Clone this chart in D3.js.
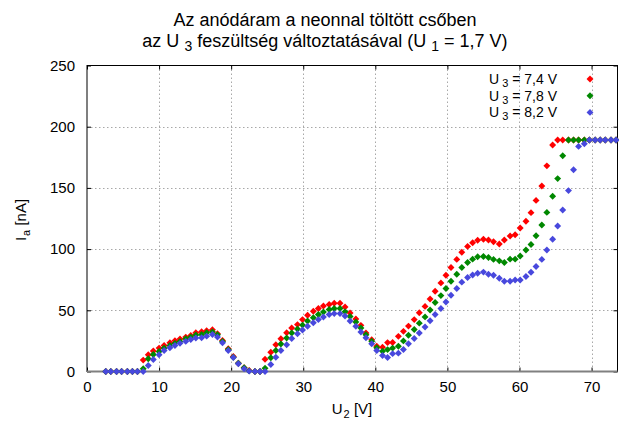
<!DOCTYPE html>
<html>
<head>
<meta charset="utf-8">
<script src="https://cdn.jsdelivr.net/npm/d3@7"></script>
<style>
  body { margin: 0; background: #fff; }
  text { font-family: "Liberation Sans", Arial, sans-serif; fill: #000; }
</style>
</head>
<body>
<div id="graph1"></div>
<script>
// U2 [V] values of the measurement
var u2 = [2.6, 3.3, 4.1, 4.8, 5.6, 6.3, 7.0, 7.8, 8.5, 9.2,
  10.0, 10.7, 11.5, 12.2, 12.9, 13.7, 14.4, 15.1, 15.9, 16.6,
  17.4, 18.1, 18.8, 19.6, 20.3, 21.0, 21.8, 22.5, 23.3, 24.0,
  24.7, 25.5, 26.2, 26.9, 27.7, 28.4, 29.2, 29.9, 30.6, 31.4,
  32.1, 32.8, 33.6, 34.3, 35.1, 35.8, 36.5, 37.3, 38.0, 38.7,
  39.5, 40.2, 41.0, 41.7, 42.4, 43.2, 43.9, 44.6, 45.4, 46.1,
  46.9, 47.6, 48.3, 49.1, 49.8, 50.5, 51.3, 52.0, 52.8, 53.5,
  54.2, 55.0, 55.7, 56.4, 57.2, 57.9, 58.7, 59.4, 60.1, 60.9,
  61.6, 62.3, 63.1, 63.8, 64.6, 65.3, 66.0, 66.8, 67.5, 68.2,
  69.0, 69.7, 70.5, 71.2, 71.9, 72.7, 73.4]

// Ia [nA] for U3 = 7,4 V
var ia_74 = [0, 0, 0, 0, 0, 0, 0, 9.3, 13.7, 16.7,
  19.1, 21.3, 23.5, 25.2, 26.5, 28.1, 29.5, 31.7, 32.5, 33.3,
  34.2, 30.9, 25.4, 18.6, 12.3, 6.8, 3.0, 0.8, 0, 0,
  10.0, 15.8, 21.9, 26.8, 31.7, 35.5, 38.3, 42.4, 45.9, 49.2,
  51.4, 53.5, 54.7, 55.7, 55.7, 52.7, 47.8, 42.9, 37.7, 31.4,
  26.0, 20.7, 19.9, 23.6, 23.7, 28.7, 32.8, 37.1, 42.4, 48.0,
  53.2, 59.2, 65.6, 72.4, 78.7, 85.0, 91.6, 97.4, 102.2, 105.2,
  107.2, 108.0, 107.4, 106.0, 104.1, 107.4, 110.7, 111.7, 117.2, 122.7,
  129.8, 139.8, 151.6, 168.0, 185.0, 189.2, 189.2, 189.2, 189.2, 189.2,
  189.2, 189.2, 189.2, 189.2, 189.2, 189.2, 189.2]

// Ia [nA] for U3 = 7,8 V
var ia_78 = [0, 0, 0, 0, 0, 0, 0, 2.2, 10.4, 13.9,
  16.4, 19.1, 21.3, 23.0, 24.6, 26.8, 28.1, 29.8, 30.3, 31.7,
  32.4, 30.0, 24.6, 18.0, 11.7, 6.8, 3.0, 0.5, 0, 0,
  2.7, 11.2, 17.2, 22.4, 27.3, 31.5, 34.7, 37.9, 41.2, 44.0,
  46.5, 48.6, 50.6, 51.4, 51.4, 48.9, 45.0, 40.4, 35.5, 30.0,
  24.8, 19.4, 16.6, 17.9, 19.1, 20.6, 25.0, 29.6, 34.3, 39.5,
  44.6, 50.3, 56.4, 62.0, 67.8, 73.8, 79.5, 85.0, 89.1, 91.8,
  93.7, 94.0, 93.2, 91.6, 90.4, 89.1, 91.8, 91.8, 94.3, 99.2,
  103.8, 110.9, 119.7, 130.0, 143.2, 157.6, 176.2, 189.2, 189.2, 189.2,
  189.2, 189.2, 189.2, 189.2, 189.2, 189.2, 189.2]

// Ia [nA] for U3 = 8,2 V
var ia_82 = [0, 0, 0, 0, 0, 0, 0, 0, 4.9, 9.8,
  13.7, 17.2, 19.4, 21.3, 23.0, 24.6, 26.2, 27.3, 27.6, 28.9,
  30.2, 28.1, 23.5, 17.2, 11.5, 6.3, 2.2, 0.3, 0, 0,
  0, 5.7, 11.7, 17.2, 21.9, 27.0, 30.9, 33.9, 36.9, 39.9,
  42.4, 44.5, 46.5, 47.3, 47.3, 45.3, 41.2, 36.9, 32.2, 27.6,
  22.7, 17.2, 13.1, 11.4, 14.6, 15.0, 18.0, 22.7, 27.0, 31.4,
  36.3, 41.4, 46.5, 51.4, 56.8, 62.3, 67.8, 73.0, 76.8, 78.9,
  80.3, 81.2, 79.5, 78.7, 76.2, 73.8, 73.8, 74.8, 74.8, 77.6,
  81.1, 85.8, 91.6, 99.2, 108.0, 118.9, 132.0, 147.8, 164.8, 183.9,
  186.1, 189.2, 189.2, 189.2, 189.2, 189.2, 189.2]

var series_names = ["7,4 V", "7,8 V", "8,2 V"]
var series_colors = ["#ff0000", "#008800", "#4848dd"]
var xticks = [0, 10, 20, 30, 40, 50, 60, 70]
var yticks = [0, 50, 100, 150, 200, 250]

function draw_chart(){
  var width = 619, height = 423
  var left = 87, right = 617.5, top = 65.5, bottom = 371.5

  var xscale = d3.scaleLinear().domain([0, 73.6]).range([left, right])
  var yscale = d3.scaleLinear().domain([0, 250]).range([bottom, top])

  var svg = d3.select("#graph1").append("svg")
    .attr("width", width)
    .attr("height", height)

  // dotted grid
  svg.append("g").selectAll("line")
    .data(xticks.filter(function(d){ return d > 0 }))
    .enter().append("line")
    .attr("x1", function(d){ return Math.round(xscale(d)) + 0.5 })
    .attr("x2", function(d){ return Math.round(xscale(d)) + 0.5 })
    .attr("y1", top).attr("y2", bottom)
    .attr("stroke", "#a8a8a8")
    .attr("stroke-dasharray", "1.5,2.5")
  svg.append("g").selectAll("line")
    .data(yticks.filter(function(d){ return d > 0 && d < 250 }))
    .enter().append("line")
    .attr("y1", function(d){ return Math.round(yscale(d)) + 0.5 })
    .attr("y2", function(d){ return Math.round(yscale(d)) + 0.5 })
    .attr("x1", left).attr("x2", right)
    .attr("stroke", "#a8a8a8")
    .attr("stroke-dasharray", "1.5,2.5")

  // axes with inward ticks, mirrored on top and right
  svg.append("g")
    .attr("transform", "translate(0," + bottom + ")")
    .call(d3.axisBottom(xscale).tickValues(xticks).tickSize(-4).tickPadding(10))
  svg.append("g")
    .attr("transform", "translate(0," + top + ")")
    .call(d3.axisTop(xscale).tickValues(xticks).tickSize(-4).tickFormat(""))
  svg.append("g")
    .attr("transform", "translate(" + left + ",0)")
    .call(d3.axisLeft(yscale).tickValues(yticks).tickSize(-4).tickPadding(12))
  svg.append("g")
    .attr("transform", "translate(" + right + ",0)")
    .call(d3.axisRight(yscale).tickValues(yticks).tickSize(-4).tickFormat(""))

  svg.selectAll(".domain").remove()
  svg.selectAll(".tick line").attr("stroke", "#000")
  svg.selectAll(".tick text")
    .style("font-family", "Liberation Sans, Arial, sans-serif")
    .style("font-size", "15px")
    .attr("fill", "#000")

  svg.append("rect")
    .attr("x", left).attr("y", top)
    .attr("width", right - left).attr("height", bottom - top)
    .attr("fill", "none")
    .attr("stroke", "#000")
  svg.append("line")
    .attr("x1", left).attr("x2", right)
    .attr("y1", bottom).attr("y2", bottom)
    .attr("stroke", "#808080")
    .attr("stroke-width", 2)

  // points
  var all = [ia_74, ia_78, ia_82]
  var diamond = d3.symbol().type(d3.symbolSquare).size(24)
  all.forEach(function(vals, s){
    svg.append("g").selectAll("path")
      .data(vals)
      .enter().append("path")
      .attr("d", diamond)
      .attr("transform", function(d, i){
        return "translate(" + xscale(u2[i]) + "," + yscale(d) + ") rotate(45)"
      })
      .attr("fill", series_colors[s])
  })

  // legend
  series_names.forEach(function(name, s){
    var y = 79 + s * 16.7
    var t = svg.append("text")
      .attr("x", 557).attr("y", y + 5)
      .attr("text-anchor", "end")
      .style("font-size", "14px")
    t.append("tspan").text("U")
    t.append("tspan").attr("dx", 3).attr("dy", 3).style("font-size", "11px").text("3")
    t.append("tspan").attr("dy", -3).text(" = " + name)
    svg.append("path")
      .attr("d", diamond)
      .attr("transform", "translate(590," + y + ") rotate(45)")
      .attr("fill", series_colors[s])
  })

  // title
  svg.append("text")
    .attr("x", 325).attr("y", 26)
    .attr("text-anchor", "middle")
    .style("font-size", "18px")
    .text("Az anódáram a neonnal töltött csőben")
  var t2 = svg.append("text")
    .attr("x", 325).attr("y", 47)
    .attr("text-anchor", "middle")
    .style("font-size", "18px")
  t2.append("tspan").text("az U")
  t2.append("tspan").attr("dx", 5).attr("dy", 4).style("font-size", "14px").text("3")
  t2.append("tspan").attr("dy", -4).text(" feszültség változtatásával (U")
  t2.append("tspan").attr("dx", 5).attr("dy", 4).style("font-size", "14px").text("1")
  t2.append("tspan").attr("dy", -4).text(" = 1,7 V)")

  // axis labels
  var xl = svg.append("text")
    .attr("x", 352).attr("y", 414)
    .attr("text-anchor", "middle")
    .style("font-size", "15px")
  xl.append("tspan").text("U")
  xl.append("tspan").attr("dx", 1).attr("dy", 4).style("font-size", "11px").text("2")
  xl.append("tspan").attr("dy", -4).text(" [V]")

  var yl = svg.append("text")
    .attr("transform", "translate(26,220) rotate(-90)")
    .attr("text-anchor", "middle")
    .style("font-size", "15px")
  yl.append("tspan").text("I")
  yl.append("tspan").attr("dx", 1).attr("dy", 4).style("font-size", "11px").text("a")
  yl.append("tspan").attr("dy", -4).text(" [nA]")
}

draw_chart()
</script>
</body>
</html>
